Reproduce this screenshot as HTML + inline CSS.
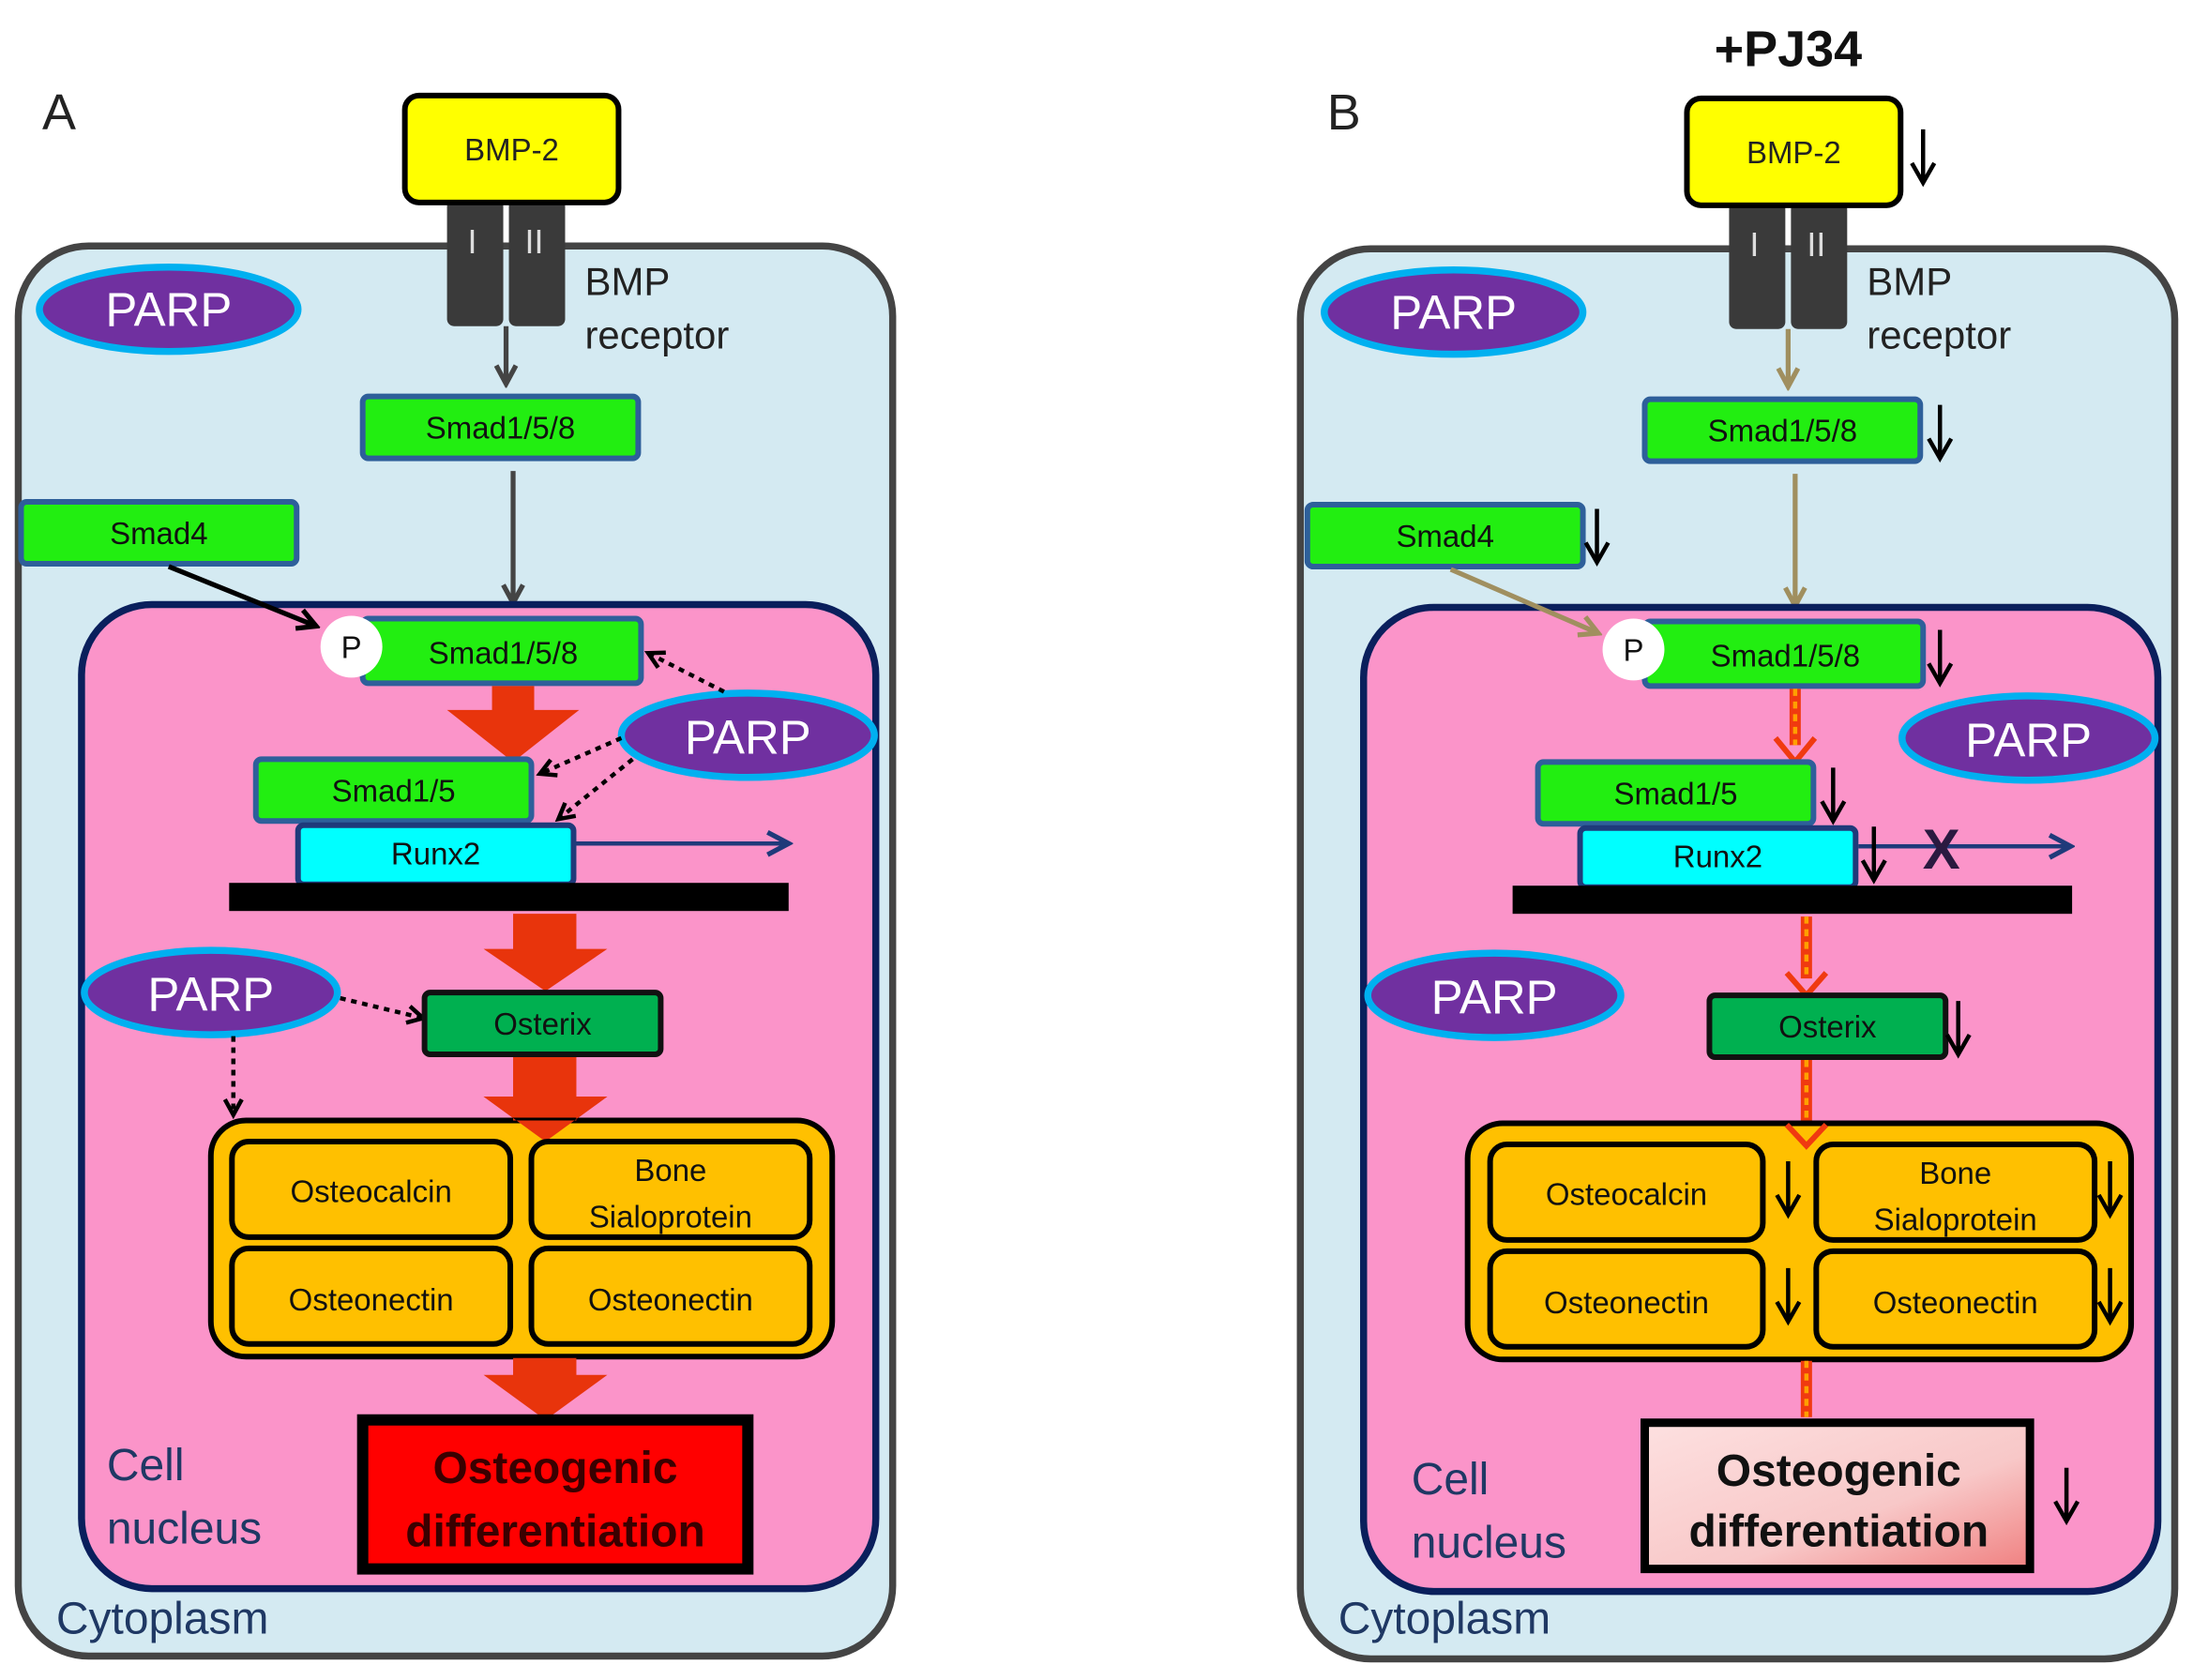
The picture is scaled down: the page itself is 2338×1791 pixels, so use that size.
<!DOCTYPE html>
<html><head><meta charset="utf-8"><style>html,body{margin:0;padding:0;background:#fff}svg{display:block}</style></head>
<body>
<svg width="2338" height="1791" viewBox="0 0 1560 1195" preserveAspectRatio="none" xmlns="http://www.w3.org/2000/svg" font-family="Liberation Sans, sans-serif">
<defs>
<marker id="ah" markerWidth="10" markerHeight="10" refX="8" refY="5" orient="auto" markerUnits="userSpaceOnUse"><path d="M0,0 L10,5 L0,10" fill="none" stroke="#000" stroke-width="2.5"/></marker>
<marker id="ahg" markerWidth="18" markerHeight="18" refX="14" refY="9" orient="auto" markerUnits="userSpaceOnUse"><path d="M2,2 L15,9 L2,16" fill="none" stroke="#444" stroke-width="3.5"/></marker>
<marker id="aht" markerWidth="18" markerHeight="18" refX="14" refY="9" orient="auto" markerUnits="userSpaceOnUse"><path d="M2,2 L15,9 L2,16" fill="none" stroke="#a08f5f" stroke-width="3.5"/></marker>
<marker id="ahb" markerWidth="18" markerHeight="18" refX="14" refY="9" orient="auto" markerUnits="userSpaceOnUse"><path d="M2,2 L15,9 L2,16" fill="none" stroke="#000" stroke-width="3.5"/></marker>
<marker id="ahn" markerWidth="20" markerHeight="20" refX="16" refY="10" orient="auto" markerUnits="userSpaceOnUse"><path d="M2,2 L17,10 L2,18" fill="none" stroke="#1f3a7a" stroke-width="3.5"/></marker>
<marker id="ahd" markerWidth="16" markerHeight="16" refX="12" refY="8" orient="auto" markerUnits="userSpaceOnUse"><path d="M2,2 L13,8 L2,14" fill="none" stroke="#000" stroke-width="3"/></marker>
<linearGradient id="og" x1="0" y1="0" x2="1" y2="1"><stop offset="0" stop-color="#fde0e0"/><stop offset="0.6" stop-color="#f8c8c8"/><stop offset="1" stop-color="#f08080"/></linearGradient>
<g id="down"><line x1="0" y1="0" x2="0" y2="36" stroke="#000" stroke-width="3"/><path d="M-8,24 L0,38 L8,24" fill="none" stroke="#000" stroke-width="3"/></g>
</defs>

<!-- ================= PANEL A ================= -->
<text x="30" y="92" font-size="36" fill="#222">A</text>
<rect x="13" y="175" width="622" height="1003" rx="50" fill="#d4eaf2" stroke="#444" stroke-width="5"/>
<rect x="318" y="142" width="40" height="90" rx="5" fill="#3a3a3a"/>
<rect x="362" y="142" width="40" height="90" rx="5" fill="#3a3a3a"/>
<text x="336" y="180" font-size="24" fill="#ddd" text-anchor="middle">I</text>
<text x="380" y="180" font-size="24" fill="#ddd" text-anchor="middle">II</text>
<rect x="288" y="68" width="152" height="76" rx="10" fill="#ffff00" stroke="#000" stroke-width="4"/>
<text x="364" y="114" font-size="22" text-anchor="middle" fill="#222">BMP-2</text>
<text x="416" y="210" font-size="28" fill="#222">BMP</text>
<text x="416" y="248" font-size="28" fill="#222">receptor</text>
<ellipse cx="120" cy="220" rx="92" ry="30" fill="#7030a0" stroke="#00b0f0" stroke-width="5"/>
<text x="120" y="232" font-size="34" fill="#fff" text-anchor="middle">PARP</text>
<line x1="360" y1="232" x2="360" y2="272" stroke="#444" stroke-width="3.5" marker-end="url(#ahg)"/>
<rect x="258" y="282" width="196" height="44" rx="4" fill="#22ee11" stroke="#2e5f9a" stroke-width="4"/>
<text x="356" y="312" font-size="22" text-anchor="middle" fill="#111">Smad1/5/8</text>
<line x1="365" y1="335" x2="365" y2="428" stroke="#444" stroke-width="3.5" marker-end="url(#ahg)"/>
<rect x="15" y="357" width="196" height="44" rx="4" fill="#22ee11" stroke="#2e5f9a" stroke-width="4"/>
<text x="113" y="387" font-size="22" text-anchor="middle" fill="#111">Smad4</text>
<rect x="58" y="430" width="565" height="700" rx="50" fill="#fb94c9" stroke="#0a1f5c" stroke-width="5"/>
<line x1="120" y1="403" x2="224" y2="445" stroke="#000" stroke-width="3.5" marker-end="url(#ahb)"/>
<rect x="258" y="440" width="198" height="46" rx="4" fill="#22ee11" stroke="#2e5f9a" stroke-width="4"/>
<circle cx="250" cy="460" r="22" fill="#fff"/>
<text x="250" y="468" font-size="22" text-anchor="middle" fill="#111">P</text>
<text x="358" y="472" font-size="22" text-anchor="middle" fill="#111">Smad1/5/8</text>
<path d="M350,488 H380 V505 H412 L365,542 L318,505 H350 Z" fill="#e8340c"/>
<rect x="182" y="540" width="196" height="44" rx="4" fill="#22ee11" stroke="#2e5f9a" stroke-width="4"/>
<text x="280" y="570" font-size="22" text-anchor="middle" fill="#111">Smad1/5</text>
<rect x="212" y="587" width="196" height="42" rx="4" fill="#00ffff" stroke="#1f3a7a" stroke-width="4"/>
<text x="310" y="615" font-size="22" text-anchor="middle" fill="#111">Runx2</text>
<line x1="408" y1="600" x2="560" y2="600" stroke="#1f3a7a" stroke-width="3" marker-end="url(#ahn)"/>
<rect x="163" y="628" width="398" height="20" fill="#000"/>
<ellipse cx="532" cy="523" rx="90" ry="30" fill="#7030a0" stroke="#00b0f0" stroke-width="5"/>
<text x="532" y="536" font-size="34" fill="#fff" text-anchor="middle">PARP</text>
<line x1="515" y1="492" x2="462" y2="465" stroke="#000" stroke-width="3" stroke-dasharray="4,4" marker-end="url(#ahd)"/>
<line x1="442" y1="525" x2="385" y2="550" stroke="#000" stroke-width="3" stroke-dasharray="4,4" marker-end="url(#ahd)"/>
<line x1="450" y1="540" x2="398" y2="582" stroke="#000" stroke-width="3" stroke-dasharray="4,4" marker-end="url(#ahd)"/>
<path d="M365,650 H410 V675 H432 L388,705 L344,675 H365 Z" fill="#e8340c"/>
<ellipse cx="150" cy="706" rx="90" ry="30" fill="#7030a0" stroke="#00b0f0" stroke-width="5"/>
<text x="150" y="719" font-size="34" fill="#fff" text-anchor="middle">PARP</text>
<line x1="242" y1="710" x2="300" y2="724" stroke="#000" stroke-width="3" stroke-dasharray="4,4" marker-end="url(#ahd)"/>
<line x1="166" y1="737" x2="166" y2="792" stroke="#000" stroke-width="3" stroke-dasharray="4,4" marker-end="url(#ahd)"/>
<rect x="302" y="706" width="168" height="44" rx="4" fill="#00b050" stroke="#111" stroke-width="4"/>
<text x="386" y="736" font-size="22" text-anchor="middle" fill="#111">Osterix</text>
<path d="M365,752 H410 V780 H432 L388,812 L344,780 H365 Z" fill="#e8340c"/>
<rect x="150" y="797" width="442" height="168" rx="25" fill="#ffc000" stroke="#000" stroke-width="4"/>
<path d="M365,797 H410 V780 H365 Z M344,780 L432,780 L388,812 Z" fill="#e8340c"/>
<rect x="165" y="812" width="198" height="68" rx="12" fill="#ffc000" stroke="#000" stroke-width="4"/>
<text x="264" y="855" font-size="22" text-anchor="middle" fill="#111">Osteocalcin</text>
<rect x="378" y="812" width="198" height="68" rx="12" fill="#ffc000" stroke="#000" stroke-width="4"/>
<text x="477" y="840" font-size="22" text-anchor="middle" fill="#111">Bone</text>
<text x="477" y="873" font-size="22" text-anchor="middle" fill="#111">Sialoprotein</text>
<rect x="165" y="888" width="198" height="68" rx="12" fill="#ffc000" stroke="#000" stroke-width="4"/>
<text x="264" y="932" font-size="22" text-anchor="middle" fill="#111">Osteonectin</text>
<rect x="378" y="888" width="198" height="68" rx="12" fill="#ffc000" stroke="#000" stroke-width="4"/>
<text x="477" y="932" font-size="22" text-anchor="middle" fill="#111">Osteonectin</text>
<path d="M365,966 H410 V978 H432 L388,1010 L344,978 H365 Z" fill="#e8340c"/>
<rect x="258" y="1010" width="274" height="106" fill="#ff0000" stroke="#000" stroke-width="8"/>
<text x="395" y="1055" font-size="32" font-weight="bold" text-anchor="middle" fill="#3a0000">Osteogenic</text>
<text x="395" y="1100" font-size="32" font-weight="bold" text-anchor="middle" fill="#3a0000">differentiation</text>
<text x="76" y="1053" font-size="32" fill="#1f3864">Cell</text>
<text x="76" y="1098" font-size="32" fill="#1f3864">nucleus</text>
<text x="40" y="1162" font-size="32" fill="#1f3864">Cytoplasm</text>

<!-- ================= PANEL B ================= -->
<text x="944" y="92" font-size="36" fill="#222">B</text>
<text x="1272" y="47" font-size="36" font-weight="bold" text-anchor="middle" fill="#111">+PJ34</text>
<rect x="925" y="177" width="622" height="1003" rx="50" fill="#d4eaf2" stroke="#444" stroke-width="5"/>
<rect x="1230" y="144" width="40" height="90" rx="5" fill="#3a3a3a"/>
<rect x="1274" y="144" width="40" height="90" rx="5" fill="#3a3a3a"/>
<text x="1248" y="182" font-size="24" fill="#ddd" text-anchor="middle">I</text>
<text x="1292" y="182" font-size="24" fill="#ddd" text-anchor="middle">II</text>
<rect x="1200" y="70" width="152" height="76" rx="10" fill="#ffff00" stroke="#000" stroke-width="4"/>
<text x="1276" y="116" font-size="22" text-anchor="middle" fill="#222">BMP-2</text>
<use href="#down" x="1368" y="92"/>
<text x="1328" y="210" font-size="28" fill="#222">BMP</text>
<text x="1328" y="248" font-size="28" fill="#222">receptor</text>
<ellipse cx="1034" cy="222" rx="92" ry="30" fill="#7030a0" stroke="#00b0f0" stroke-width="5"/>
<text x="1034" y="234" font-size="34" fill="#fff" text-anchor="middle">PARP</text>
<line x1="1272" y1="234" x2="1272" y2="274" stroke="#a08f5f" stroke-width="3.5" marker-end="url(#aht)"/>
<rect x="1170" y="284" width="196" height="44" rx="4" fill="#22ee11" stroke="#2e5f9a" stroke-width="4"/>
<text x="1268" y="314" font-size="22" text-anchor="middle" fill="#111">Smad1/5/8</text>
<use href="#down" x="1380" y="288"/>
<line x1="1277" y1="337" x2="1277" y2="430" stroke="#a08f5f" stroke-width="3.5" marker-end="url(#aht)"/>
<rect x="930" y="359" width="196" height="44" rx="4" fill="#22ee11" stroke="#2e5f9a" stroke-width="4"/>
<text x="1028" y="389" font-size="22" text-anchor="middle" fill="#111">Smad4</text>
<use href="#down" x="1136" y="362"/>
<rect x="970" y="432" width="565" height="700" rx="50" fill="#fb94c9" stroke="#0a1f5c" stroke-width="5"/>
<line x1="1032" y1="405" x2="1136" y2="450" stroke="#a08f5f" stroke-width="3.5" marker-end="url(#aht)"/>
<rect x="1170" y="442" width="198" height="46" rx="4" fill="#22ee11" stroke="#2e5f9a" stroke-width="4"/>
<circle cx="1162" cy="462" r="22" fill="#fff"/>
<text x="1162" y="470" font-size="22" text-anchor="middle" fill="#111">P</text>
<text x="1270" y="474" font-size="22" text-anchor="middle" fill="#111">Smad1/5/8</text>
<use href="#down" x="1380" y="448"/>
<line x1="1277" y1="490" x2="1277" y2="530" stroke="#f03a10" stroke-width="8"/>
<line x1="1277" y1="490" x2="1277" y2="530" stroke="#ffa000" stroke-width="3" stroke-dasharray="5,4"/>
<path d="M1263,525 L1277,542 L1291,525" fill="none" stroke="#f03a10" stroke-width="4"/>
<rect x="1094" y="542" width="196" height="44" rx="4" fill="#22ee11" stroke="#2e5f9a" stroke-width="4"/>
<text x="1192" y="572" font-size="22" text-anchor="middle" fill="#111">Smad1/5</text>
<use href="#down" x="1304" y="546"/>
<rect x="1124" y="589" width="196" height="42" rx="4" fill="#00ffff" stroke="#1f3a7a" stroke-width="4"/>
<text x="1222" y="617" font-size="22" text-anchor="middle" fill="#111">Runx2</text>
<line x1="1322" y1="602" x2="1472" y2="602" stroke="#1f3a7a" stroke-width="3" marker-end="url(#ahn)"/>
<use href="#down" x="1333" y="588"/>
<text x="1381" y="618" font-size="40" font-weight="bold" text-anchor="middle" fill="#2a1a40">X</text>
<rect x="1076" y="630" width="398" height="20" fill="#000"/>
<ellipse cx="1443" cy="525" rx="90" ry="30" fill="#7030a0" stroke="#00b0f0" stroke-width="5"/>
<text x="1443" y="538" font-size="34" fill="#fff" text-anchor="middle">PARP</text>
<line x1="1285" y1="652" x2="1285" y2="696" stroke="#f03a10" stroke-width="8"/>
<line x1="1285" y1="652" x2="1285" y2="696" stroke="#ffa000" stroke-width="3" stroke-dasharray="5,4"/>
<path d="M1271,692 L1285,708 L1299,692" fill="none" stroke="#f03a10" stroke-width="4"/>
<ellipse cx="1063" cy="708" rx="90" ry="30" fill="#7030a0" stroke="#00b0f0" stroke-width="5"/>
<text x="1063" y="721" font-size="34" fill="#fff" text-anchor="middle">PARP</text>
<rect x="1216" y="708" width="168" height="44" rx="4" fill="#00b050" stroke="#111" stroke-width="4"/>
<text x="1300" y="738" font-size="22" text-anchor="middle" fill="#111">Osterix</text>
<use href="#down" x="1393" y="712"/>
<line x1="1285" y1="754" x2="1285" y2="800" stroke="#f03a10" stroke-width="8"/>
<line x1="1285" y1="754" x2="1285" y2="800" stroke="#ffa000" stroke-width="3" stroke-dasharray="5,4"/>
<rect x="1044" y="799" width="472" height="168" rx="25" fill="#ffc000" stroke="#000" stroke-width="4"/>
<path d="M1271,800 L1285,815 L1299,800" fill="none" stroke="#f03a10" stroke-width="4"/>
<rect x="1060" y="814" width="194" height="68" rx="12" fill="#ffc000" stroke="#000" stroke-width="4"/>
<text x="1157" y="857" font-size="22" text-anchor="middle" fill="#111">Osteocalcin</text>
<use href="#down" x="1272" y="826"/>
<rect x="1292" y="814" width="198" height="68" rx="12" fill="#ffc000" stroke="#000" stroke-width="4"/>
<text x="1391" y="842" font-size="22" text-anchor="middle" fill="#111">Bone</text>
<text x="1391" y="875" font-size="22" text-anchor="middle" fill="#111">Sialoprotein</text>
<use href="#down" x="1501" y="826"/>
<rect x="1060" y="890" width="194" height="68" rx="12" fill="#ffc000" stroke="#000" stroke-width="4"/>
<text x="1157" y="934" font-size="22" text-anchor="middle" fill="#111">Osteonectin</text>
<use href="#down" x="1272" y="902"/>
<rect x="1292" y="890" width="198" height="68" rx="12" fill="#ffc000" stroke="#000" stroke-width="4"/>
<text x="1391" y="934" font-size="22" text-anchor="middle" fill="#111">Osteonectin</text>
<use href="#down" x="1501" y="902"/>
<line x1="1285" y1="968" x2="1285" y2="1008" stroke="#f03a10" stroke-width="8"/>
<line x1="1285" y1="968" x2="1285" y2="1008" stroke="#ffa000" stroke-width="3" stroke-dasharray="5,4"/>
<rect x="1170" y="1012" width="274" height="104" fill="url(#og)" stroke="#000" stroke-width="6"/>
<text x="1308" y="1057" font-size="32" font-weight="bold" text-anchor="middle" fill="#111">Osteogenic</text>
<text x="1308" y="1100" font-size="32" font-weight="bold" text-anchor="middle" fill="#111">differentiation</text>
<use href="#down" x="1470" y="1044"/>
<text x="1004" y="1063" font-size="32" fill="#1f3864">Cell</text>
<text x="1004" y="1108" font-size="32" fill="#1f3864">nucleus</text>
<text x="952" y="1162" font-size="32" fill="#1f3864">Cytoplasm</text>
</svg>
</body></html>
